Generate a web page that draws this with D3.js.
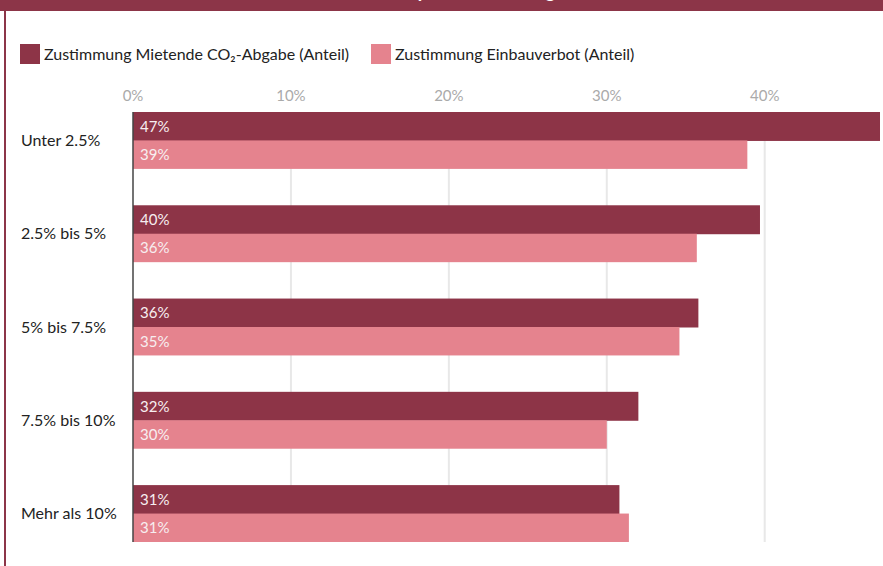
<!DOCTYPE html>
<html>
<head>
<meta charset="utf-8">
<script src="https://cdn.jsdelivr.net/npm/d3@7"></script>
<style>
  body { margin: 0; background: #fff; }
  svg text { font-family: Lato, "Open Sans", sans-serif; }
</style>
</head>
<body>
<div id="chart"></div>
<script>
var categories = ["Unter 2.5%", "2.5% bis 5%", "5% bis 7.5%", "7.5% bis 10%", "Mehr als 10%"];
var mieteCO2 = [47.3, 39.7, 35.8, 32.0, 30.8];
var einbau = [38.9, 35.7, 34.6, 30.0, 31.4];
var mieteLabels = ["47%", "40%", "36%", "32%", "31%"];
var einbauLabels = ["39%", "36%", "35%", "30%", "31%"];
var ticks = [0, 10, 20, 30, 40];
var seriesNames = ["Zustimmung Mietende CO\u2082-Abgabe (Anteil)", "Zustimmung Einbauverbot (Anteil)"];
var colors = ["#8d3447", "#e5838e"];

var W = 883, H = 566;
var svg = d3.select("#chart").append("svg")
  .attr("width", W).attr("height", H);

// frame: header bar + left border (title sits mostly above the visible area, as in the source)
svg.append("rect").attr("x", 0).attr("y", 0).attr("width", W).attr("height", 11).attr("fill", "#8c3548");
svg.append("rect").attr("x", 4).attr("y", 0).attr("width", 2).attr("height", H).attr("fill", "#8c3548");
svg.append("text").attr("x", 378).attr("y", -2)
  .attr("fill", "#fff").attr("font-size", 18).attr("font-weight", "bold")
  .text("Akzeptanz nach Energiekostenanteil");

var x = d3.scaleLinear().domain([0, 47.3]).range([133, 880]);
var y = d3.scaleBand().domain(categories).range([112, 542]).paddingInner(0.39).paddingOuter(0);
var half = y.bandwidth() / 2;

// gridlines
svg.append("g").selectAll("line").data(ticks.slice(1)).enter().append("line")
  .attr("x1", function(d) { return x(d); }).attr("x2", function(d) { return x(d); })
  .attr("y1", 112).attr("y2", 542)
  .attr("stroke", "#e8e8e8").attr("stroke-width", 2);

// tick labels
svg.append("g").selectAll("text").data(ticks).enter().append("text")
  .attr("x", function(d) { return x(d); }).attr("y", 101)
  .attr("text-anchor", "middle").attr("font-size", 15).attr("fill", "#aaaaaa")
  .text(function(d) { return d + "%"; });

// bars
var series = [
  { vals: mieteCO2, labels: mieteLabels, off: 0 },
  { vals: einbau, labels: einbauLabels, off: half }
];
series.forEach(function(s, k) {
  var g = svg.append("g");
  g.selectAll("rect").data(categories).enter().append("rect")
    .attr("x", x(0))
    .attr("y", function(d) { return y(d) + s.off; })
    .attr("width", function(d, i) { return x(s.vals[i]) - x(0); })
    .attr("height", half + (k == 0 ? 0.5 : 0))
    .attr("fill", colors[k]);
  g.selectAll("text").data(categories).enter().append("text")
    .attr("x", x(0) + 7)
    .attr("y", function(d) { return y(d) + s.off + half / 2 + 5.5; })
    .attr("font-size", 15).attr("fill", "#f7eef0")
    .text(function(d, i) { return s.labels[i]; });
});

// axis line
svg.append("line").attr("x1", x(0)).attr("x2", x(0)).attr("y1", 112).attr("y2", 542)
  .attr("stroke", "#444").attr("stroke-width", 1.5);

// category labels
svg.append("g").selectAll("text").data(categories).enter().append("text")
  .attr("x", 21).attr("y", function(d) { return y(d) + half + 5.5; })
  .attr("font-size", 16).attr("fill", "#222")
  .text(function(d) { return d; });

// legend
var legX = [20, 371];
seriesNames.forEach(function(n, k) {
  svg.append("rect").attr("x", legX[k]).attr("y", 44).attr("width", 20).attr("height", 20).attr("fill", colors[k]);
  svg.append("text").attr("x", legX[k] + 24).attr("y", 60)
    .attr("font-size", 16).attr("fill", "#222").text(n);
});
</script>
</body>
</html>
